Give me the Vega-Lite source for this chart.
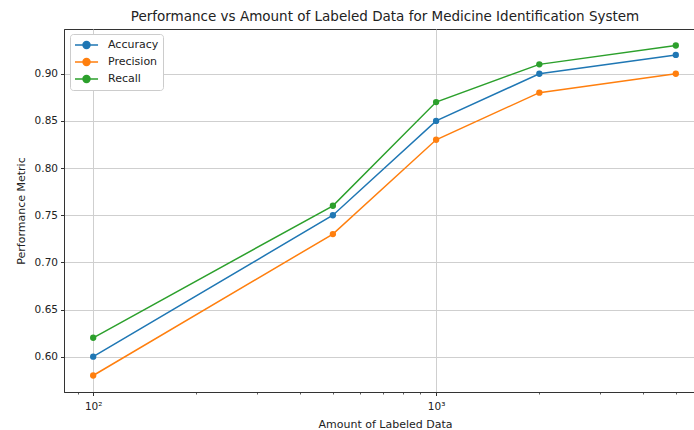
{
  "$schema": "https://vega.github.io/schema/vega-lite/v6.json",
  "width": 630,
  "height": 363,
  "autosize": {"type": "none"},
  "padding": {"left": 64, "top": 29, "right": 0, "bottom": 38},
  "background": "white",
  "title": {
    "text": "Performance vs Amount of Labeled Data for Medicine Identification System",
    "font": "DejaVu Sans",
    "fontSize": 13.5,
    "fontWeight": "normal",
    "color": "#222222",
    "anchor": "middle",
    "dx": 6,
    "offset": 6
  },
  "config": {
    "font": "DejaVu Sans",
    "view": {"stroke": "#333333", "strokeWidth": 1},
    "axis": {
      "labelFont": "DejaVu Sans",
      "titleFont": "DejaVu Sans",
      "labelColor": "#222222",
      "titleColor": "#222222",
      "labelFontSize": 10.5,
      "titleFontSize": 11,
      "titleFontWeight": "normal",
      "tickColor": "#333333",
      "domainColor": "#333333",
      "gridColor": "#cfcfcf",
      "gridWidth": 1
    }
  },
  "data": {
    "values": [
      {"n": 100, "metric": "Accuracy", "value": 0.60},
      {"n": 500, "metric": "Accuracy", "value": 0.75},
      {"n": 1000, "metric": "Accuracy", "value": 0.85},
      {"n": 2000, "metric": "Accuracy", "value": 0.90},
      {"n": 5000, "metric": "Accuracy", "value": 0.92},
      {"n": 100, "metric": "Precision", "value": 0.58},
      {"n": 500, "metric": "Precision", "value": 0.73},
      {"n": 1000, "metric": "Precision", "value": 0.83},
      {"n": 2000, "metric": "Precision", "value": 0.88},
      {"n": 5000, "metric": "Precision", "value": 0.90},
      {"n": 100, "metric": "Recall", "value": 0.62},
      {"n": 500, "metric": "Recall", "value": 0.76},
      {"n": 1000, "metric": "Recall", "value": 0.87},
      {"n": 2000, "metric": "Recall", "value": 0.91},
      {"n": 5000, "metric": "Recall", "value": 0.93}
    ]
  },
  "resolve": {"axis": {"x": "independent"}},
  "layer": [
    {
      "mark": {"type": "point", "opacity": 0},
      "encoding": {
        "x": {
          "field": "n",
          "type": "quantitative",
          "scale": {"type": "log", "domain": [82.2, 5650], "nice": false},
          "axis": {
            "orient": "bottom",
            "values": [90, 200, 300, 400, 500, 600, 700, 800, 900, 2000, 3000, 4000, 5000],
            "labels": false,
            "grid": false,
            "domain": false,
            "tickSize": 2,
            "tickWidth": 0.8,
            "title": null
          }
        },
        "y": {
          "field": "value",
          "type": "quantitative",
          "scale": {"domain": [0.5625, 0.9475], "nice": false, "zero": false},
          "axis": {
            "values": [0.60, 0.65, 0.70, 0.75, 0.80, 0.85, 0.90],
            "format": ".2f",
            "grid": true,
            "tickSize": 3.5,
            "labelPadding": 3,
            "title": "Performance Metric",
            "titlePadding": 8
          }
        }
      }
    },
    {
      "mark": {"type": "line", "strokeWidth": 1.5, "point": {"filled": true, "size": 40, "opacity": 1}},
      "encoding": {
        "x": {
          "field": "n",
          "type": "quantitative",
          "scale": {"type": "log", "domain": [82.2, 5650], "nice": false},
          "axis": {
            "orient": "bottom",
            "values": [100, 1000],
            "labelExpr": "datum.value == 100 ? '10²' : '10³'",
            "grid": true,
            "tickSize": 3.5,
            "tickWidth": 1,
            "labelPadding": 6,
            "title": "Amount of Labeled Data",
            "titleX": 321,
            "titlePadding": 6
          }
        },
        "y": {
          "field": "value",
          "type": "quantitative",
          "scale": {"domain": [0.5625, 0.9475], "nice": false, "zero": false},
          "axis": {
            "values": [0.60, 0.65, 0.70, 0.75, 0.80, 0.85, 0.90],
            "format": ".2f",
            "grid": true,
            "tickSize": 3.5,
            "labelPadding": 3,
            "title": "Performance Metric",
            "titlePadding": 8
          }
        },
        "color": {
          "field": "metric",
          "type": "nominal",
          "scale": {"domain": ["Accuracy", "Precision", "Recall"], "range": ["#1f77b4", "#ff7f0e", "#2ca02c"]},
          "legend": {
            "title": null,
            "orient": "none",
            "legendX": 6,
            "legendY": 5,
            "fillColor": "white",
            "strokeColor": "#cccccc",
            "cornerRadius": 3,
            "padding": 4,
            "rowPadding": 3,
            "labelFont": "DejaVu Sans",
            "labelFontSize": 11,
            "labelColor": "#222222",
            "labelOffset": 20,
            "symbolType": "M-1,0H2.84M0.34,0A0.58,0.58,0,1,1,1.5,0A0.58,0.58,0,1,1,0.34,0Z",
            "symbolSize": 144,
            "symbolStrokeWidth": 1.5,
            "encode": {
              "symbols": {
                "update": {
                  "fill": {"scale": "color", "field": "value"},
                  "stroke": {"scale": "color", "field": "value"},
                  "opacity": {"value": 1}
                }
              }
            }
          }
        }
      }
    }
  ]
}
